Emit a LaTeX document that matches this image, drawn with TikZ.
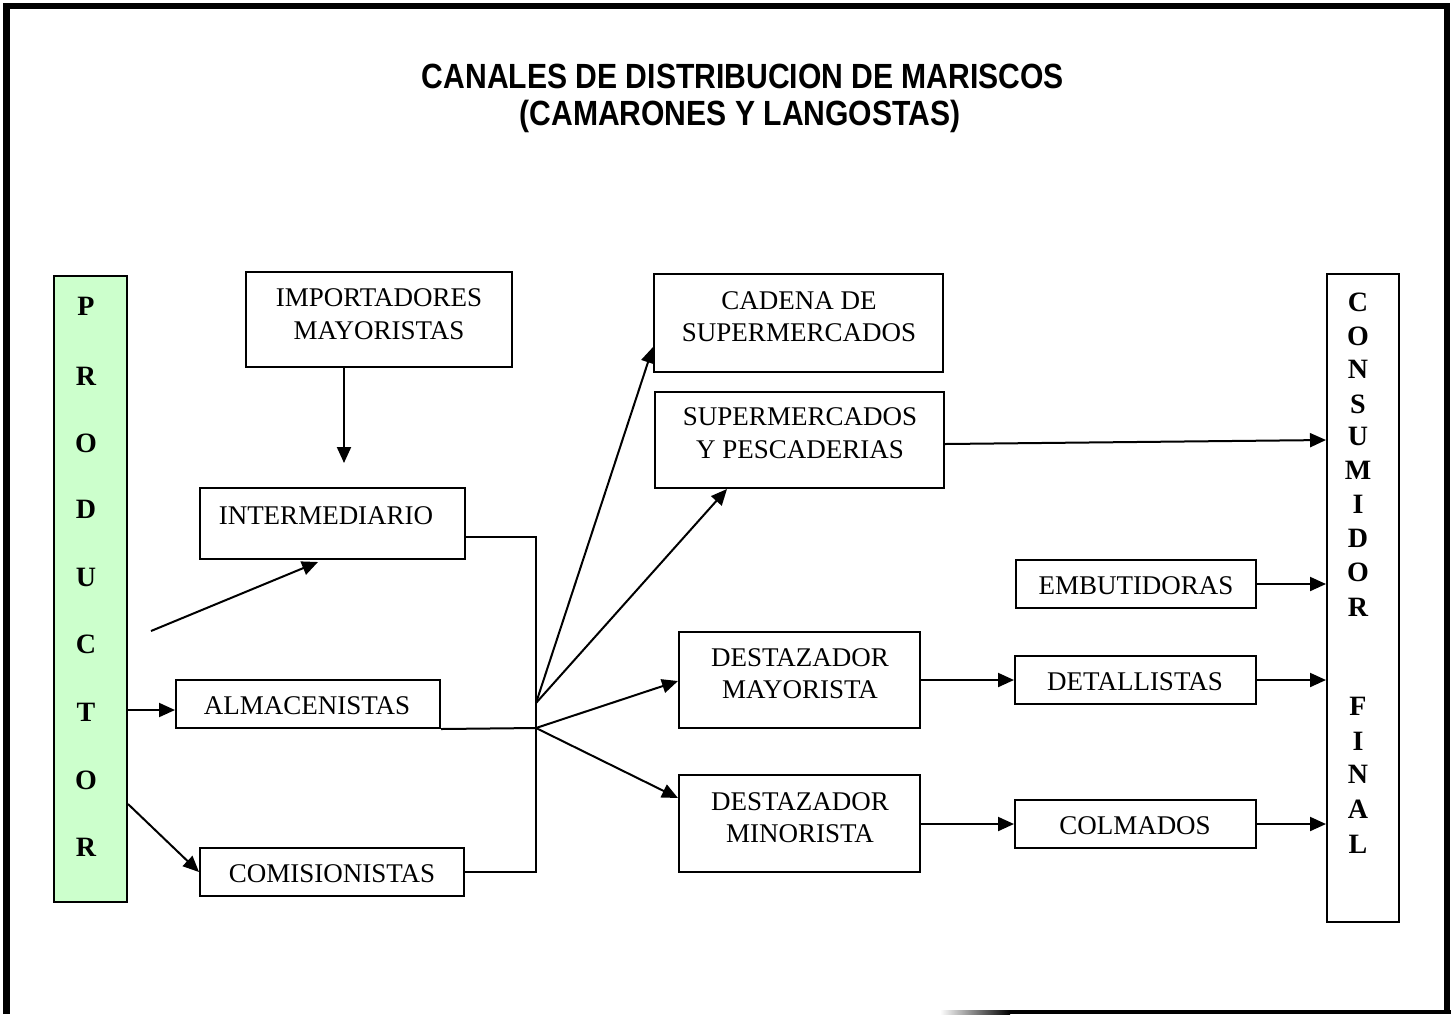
\documentclass[tikz,border=0pt]{standalone}
\usepackage{fontspec}
\setmainfont{Liberation Serif}
\newfontfamily\titlefont{Liberation Sans}[FakeStretch=0.86]
\usetikzlibrary{arrows.meta,fit}
\definecolor{prodgreen}{HTML}{CCFFCC}
\begin{document}
\begin{tikzpicture}[x=0.5pt,y=-0.5pt,
  box/.style={draw, line width=1pt, inner sep=0pt},
  txt/.style={anchor=base, inner sep=0pt, font=\fontsize{13.5}{15}\selectfont},
  vtxt/.style={anchor=base, inner sep=0pt, font=\fontsize{14}{15}\selectfont\bfseries},
  ttl/.style={anchor=base, inner sep=0pt, font=\titlefont\bfseries\fontsize{17.5}{20}\selectfont},
  conn/.style={line width=1pt},
  arr/.style={line width=1pt, -{Triangle[length=8pt,width=7pt]}},
]
\useasboundingbox (0,0) rectangle (1456,1014);

% outer frame
\draw[line width=3.4pt, line join=miter] (6.7,1014) -- (6.7,6) -- (1447,6) -- (1447,1014);
\shade[left color=white, right color=black] (940,1010) rectangle (1010,1014);
\fill[black] (1010,1010) rectangle (1451,1014);

% title
\node[ttl] (t1) at (743,88) {CANALES DE DISTRIBUCION DE MARISCOS};
\node[ttl] (t2) at (740,125.5) {(CAMARONES Y LANGOSTAS)};

% boxes
\node[box, fill=prodgreen, fit={(54,276)(127,902)}] (prod) {};
\node[box, fit={(246,272)(512,367)}] (imp) {};
\node[box, fit={(200,488)(465,559)}] (inter) {};
\node[box, fit={(176,680)(440,728)}] (alm) {};
\node[box, fit={(200,848)(464,896)}] (com) {};
\node[box, fit={(654,274)(943,372)}] (cad) {};
\node[box, fit={(655,392)(944,488)}] (sup) {};
\node[box, fit={(679,632)(920,728)}] (dmay) {};
\node[box, fit={(679,775)(920,872)}] (dmin) {};
\node[box, fit={(1016,560)(1256,608)}] (emb) {};
\node[box, fit={(1015,656)(1256,704)}] (det) {};
\node[box, fit={(1015,800)(1256,848)}] (col) {};
\node[box, fit={(1327,274)(1399,922)}] (cons) {};

% texts
\node[txt] (impA) at (379,306.9) {IMPORTADORES};
\node[txt] (impB) at (379,339.9) {MAYORISTAS};
\node[txt] (interA) at (326,524.9) {INTERMEDIARIO};
\node[txt] (almA) at (307,714.9) {ALMACENISTAS};
\node[txt] (comA) at (332,882.9) {COMISIONISTAS};
\node[txt] (cadA) at (799,309.9) {CADENA DE};
\node[txt] (cadB) at (799,341.9) {SUPERMERCADOS};
\node[txt] (supA) at (800,425.9) {SUPERMERCADOS};
\node[txt] (supB) at (800,458.9) {Y PESCADERIAS};
\node[txt] (embA) at (1136,594.9) {EMBUTIDORAS};
\node[txt] (dmayA) at (800,666.9) {DESTAZADOR};
\node[txt] (dmayB) at (800,698.9) {MAYORISTA};
\node[txt] (detA) at (1135,690.9) {DETALLISTAS};
\node[txt] (dminA) at (800,810.9) {DESTAZADOR};
\node[txt] (dminB) at (800,842.9) {MINORISTA};
\node[txt] (colA) at (1135,834.9) {COLMADOS};

\foreach \l/\y [count=\i] in {P/306,R/376,O/443,D/509,U/577,C/644,T/712,O/780,R/847}
  \node[vtxt] (prodL\i) at (86,\y+9.3) {\l};
\foreach \l/\y [count=\i] in {C/302,O/336,N/369,S/404,U/436,M/470,I/504,D/538,O/572,R/607,F/706,I/741,N/774,A/809,L/844}
  \node[vtxt] (consL\i) at (1358,\y+9.3) {\l};

% coordinates
\coordinate (hubA) at (536,703);
\coordinate (hubB) at (536,728);
\coordinate (jt) at (536,537);
\coordinate (jb) at (536,872);
\coordinate (impEnd) at (344,463);
\coordinate (pStart) at (151,631);
\coordinate (pEnd) at (318,562);

% connectors
\draw[arr] (imp.south -| impEnd) -- (impEnd);
\draw[arr] (pStart) -- (pEnd);
\draw[arr] (prod.east |- 0,710) -- (alm.west |- 0,710);
\draw[arr] (prod.east |- 0,804) -- (com.west);
\draw[conn] (inter.east |- jt) -- (jt) -- (jb) -- (com.east |- jb);
\draw[conn] (alm.south east) -- (hubB);
\draw[arr] (hubA) -- (cad.west |- 0,347);
\draw[arr] (hubA) -- (sup.south -| 727,0);
\draw[arr] (hubB) -- (dmay.west |- 0,681);
\draw[arr] (hubB) -- (dmin.west |- 0,798);
\draw[arr] (sup.east |- 0,444) -- (cons.west |- 0,440);
\draw[arr] (emb.east) -- (cons.west |- emb.east);
\draw[arr] (det.east) -- (cons.west |- det.east);
\draw[arr] (col.east) -- (cons.west |- col.east);
\draw[arr] (dmay.east |- det.west) -- (det.west);
\draw[arr] (dmin.east |- col.west) -- (col.west);
\end{tikzpicture}
\end{document}
